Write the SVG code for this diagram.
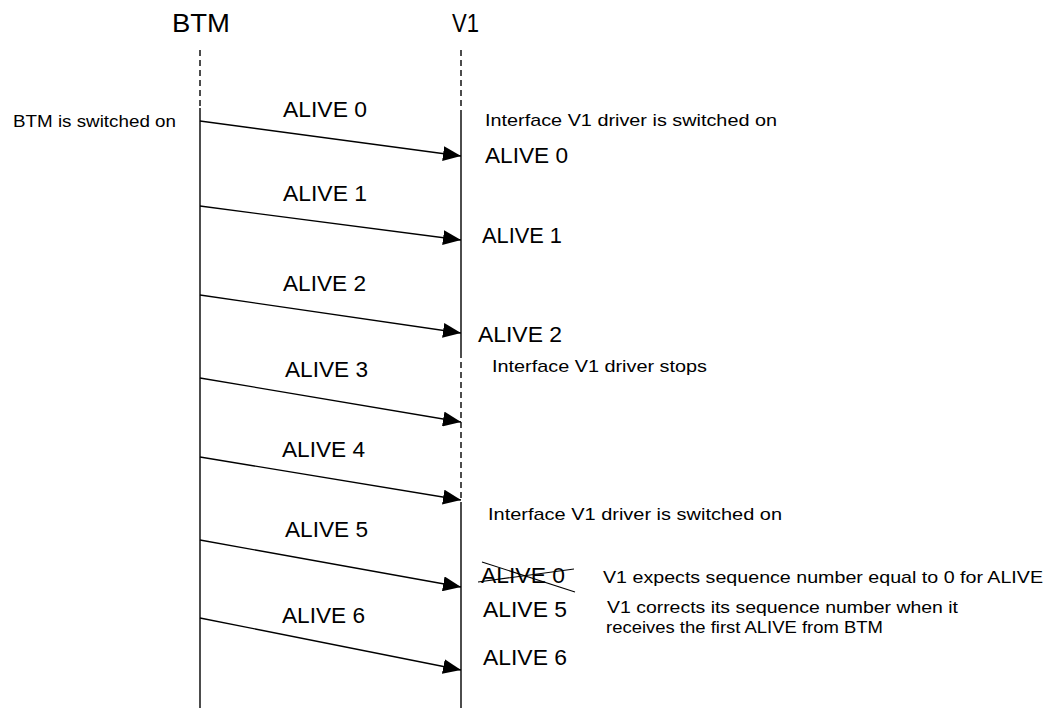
<svg xmlns="http://www.w3.org/2000/svg" width="1044" height="708" viewBox="0 0 1044 708">
<style>
text { font-family: "Liberation Sans", Arial, sans-serif; fill: #000; }
.hdr { font-size: 26px; }
.msg { font-size: 22px; }
.note { font-size: 17px; }
.life { stroke: #000; stroke-width: 1.4; fill: none; }
.dash { stroke-dasharray: 6 4; }
.arrow { stroke: #000; stroke-width: 1.3; fill: none; marker-end: url(#ah); }
.strike { stroke: #000; stroke-width: 1.1; }
</style>
<defs>
<marker id="ah" markerUnits="userSpaceOnUse" markerWidth="19" markerHeight="15" refX="18" refY="7.5" orient="auto">
<path d="M0,0 L18,7.5 L0,15 Z" fill="#000"/>
</marker>
</defs>
<rect width="1044" height="708" fill="#fff"/>

<g id="BTM">
<text class="hdr" x="172" y="32" textLength="58" lengthAdjust="spacingAndGlyphs">BTM</text>
<line class="life dash" x1="200" y1="50" x2="200" y2="108"/>
<line class="life" x1="200" y1="108" x2="200" y2="708"/>
<text class="note" x="13" y="127" textLength="163" lengthAdjust="spacingAndGlyphs">BTM is switched on</text>
</g>

<g id="V1">
<text class="hdr" x="452" y="32" textLength="27" lengthAdjust="spacingAndGlyphs">V1</text>
<line class="life dash" x1="461" y1="50" x2="461" y2="110"/>
<line class="life" x1="461" y1="110" x2="461" y2="358"/>
<line class="life dash" x1="461" y1="362" x2="461" y2="505"/>
<line class="life" x1="461" y1="505" x2="461" y2="708"/>
<text class="note" x="485" y="126" textLength="292" lengthAdjust="spacingAndGlyphs">Interface V1 driver is switched on</text>
<text class="msg" x="485" y="163" textLength="83" lengthAdjust="spacingAndGlyphs">ALIVE 0</text>
<text class="msg" x="482" y="243" textLength="80" lengthAdjust="spacingAndGlyphs">ALIVE 1</text>
<text class="msg" x="478" y="342" textLength="84" lengthAdjust="spacingAndGlyphs">ALIVE 2</text>
<text class="note" x="492" y="372" textLength="215" lengthAdjust="spacingAndGlyphs">Interface V1 driver stops</text>
<text class="note" x="488" y="520" textLength="294" lengthAdjust="spacingAndGlyphs">Interface V1 driver is switched on</text>
<text class="msg" x="481" y="583" textLength="84" lengthAdjust="spacingAndGlyphs">ALIVE 0</text>
<line class="strike" x1="482" y1="562" x2="575" y2="592"/>
<line class="strike" x1="478" y1="582" x2="574" y2="569"/>
<text class="note" x="603" y="583" textLength="440" lengthAdjust="spacingAndGlyphs">V1 expects sequence number equal to 0 for ALIVE</text>
<text class="msg" x="483" y="617" textLength="84" lengthAdjust="spacingAndGlyphs">ALIVE 5</text>
<text class="note" x="607" y="613" textLength="351" lengthAdjust="spacingAndGlyphs">V1 corrects its sequence number when it</text>
<text class="note" x="606" y="633" textLength="277" lengthAdjust="spacingAndGlyphs">receives the first ALIVE from BTM</text>
<text class="msg" x="483" y="665" textLength="84" lengthAdjust="spacingAndGlyphs">ALIVE 6</text>
</g>

<g id="connectors">
<line class="arrow" x1="200" y1="121" x2="461" y2="156"/>
<line class="arrow" x1="200" y1="206" x2="461" y2="240"/>
<line class="arrow" x1="200" y1="295" x2="461" y2="333"/>
<line class="arrow" x1="200" y1="378" x2="461" y2="422"/>
<line class="arrow" x1="200" y1="457" x2="461" y2="500"/>
<line class="arrow" x1="200" y1="540" x2="461" y2="587"/>
<line class="arrow" x1="200" y1="618" x2="461" y2="670"/>
</g>

<g id="labels">
<text class="msg" x="283" y="117" textLength="84" lengthAdjust="spacingAndGlyphs">ALIVE 0</text>
<text class="msg" x="283" y="201" textLength="84" lengthAdjust="spacingAndGlyphs">ALIVE 1</text>
<text class="msg" x="283" y="291" textLength="83" lengthAdjust="spacingAndGlyphs">ALIVE 2</text>
<text class="msg" x="285" y="377" textLength="83" lengthAdjust="spacingAndGlyphs">ALIVE 3</text>
<text class="msg" x="282" y="457" textLength="83" lengthAdjust="spacingAndGlyphs">ALIVE 4</text>
<text class="msg" x="285" y="537" textLength="83" lengthAdjust="spacingAndGlyphs">ALIVE 5</text>
<text class="msg" x="282" y="623" textLength="83" lengthAdjust="spacingAndGlyphs">ALIVE 6</text>
</g>
</svg>
